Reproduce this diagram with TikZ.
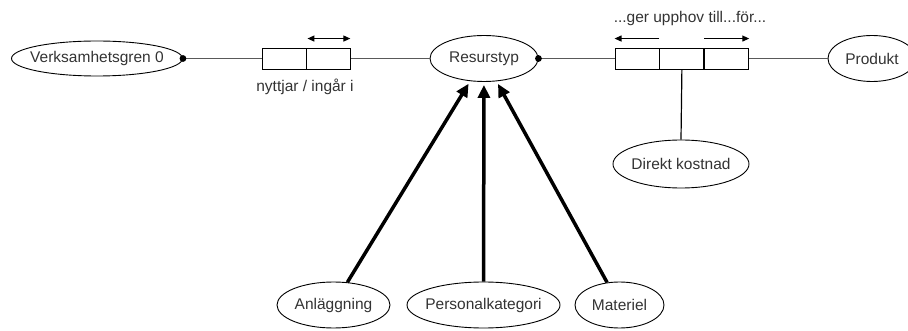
\documentclass[tikz,border=0pt]{standalone}
\usepackage{fontspec}
\setmainfont{Liberation Sans}
\usetikzlibrary{shapes.geometric,arrows.meta}
% zero-width text box, so that the ellipse size comes from the minimum sizes
\newcommand{\ztext}[1]{\makebox[0pt]{#1}}

\begin{document}
\begin{tikzpicture}[x=1pt,y=-1pt,
  entity/.style={ellipse,draw=black,line width=0.9pt,inner sep=0pt,
    font=\fontsize{15.5}{18}\selectfont,text=black!80},
  cell/.style={rectangle,draw=black,line width=0.9pt,minimum width=44pt,
    minimum height=21pt,inner sep=0pt},
  link/.style={draw=black!65,line width=1.3pt},
  thin arrow/.style={line width=1.2pt,-{Triangle[length=7pt,width=6pt]}},
  both arrow/.style={line width=1.2pt,
    {Triangle[length=7pt,width=6pt]}-{Triangle[length=7pt,width=6pt]}},
  heavy arrow/.style={line width=3.5pt,-{Triangle[length=13pt,width=12pt]},
    shorten >=3pt},
  caption/.style={font=\fontsize{15.5}{18}\selectfont,text=black!80}]

\useasboundingbox (0,0) rectangle (908,331);

% entities
\node[entity,minimum width=171pt,minimum height=35pt] (vg)   at (97,58.5)  {\ztext{Verksamhetsgren 0}};
\node[entity,minimum width=108pt,minimum height=46pt] (res)  at (484,58.5) {\ztext{Resurstyp}};
\node[entity,minimum width=88pt, minimum height=46pt] (prod) at (872,58.5) {\ztext{Produkt}};
\node[entity,minimum width=136pt,minimum height=48pt] (dk)   at (681,164)  {\ztext{Direkt kostnad}};
\node[entity,minimum width=113pt,minimum height=46pt] (anl)  at (333.5,305) {\ztext{Anläggning}};
\node[entity,minimum width=153pt,minimum height=46pt] (pk)   at (483.5,305) {\ztext{Personalkategori}};
\node[entity,minimum width=89pt, minimum height=46pt] (mat)  at (619.5,305) {\ztext{Materiel}};

% relationship boxes
\node[cell] (n1) at (284,58.5) {};
\node[cell,anchor=west] (n2) at (n1.east) {};
\node[cell] (g1) at (637,58.5) {};
\node[cell,anchor=west] (g2) at (g1.east) {};
\node[cell,anchor=west] (g3) at (g2.east) {};

% relationship labels
\node[caption] (lab1) at (305,87) {nyttjar / ingår i};
\node[caption] (lab2) at (690,18) {...ger upphov till...för...};

% connectors
\draw[link] (vg.east) -- (n1.west);
\draw[link] (n2.east) -- (res.west);
\draw[link] (res.east) -- (g1.west);
\draw[link] (g3.east) -- (prod.west);
\fill (vg.east) circle (3.4pt);
\fill (res.east) circle (3.4pt);
\draw[line width=1.2pt] (g2.south) -- (dk.north);

% reading directions
\draw[both arrow] ([xshift=1pt,yshift=9pt]n2.north west) -- ([xshift=-1pt,yshift=9pt]n2.north east);
\draw[thin arrow] ([yshift=9pt]g1.north east) -- ([yshift=9pt]g1.north west);
\draw[thin arrow] ([yshift=9pt]g3.north west) -- ([yshift=9pt]g3.north east);

% specialisations
\draw[heavy arrow] (anl) -- (res);
\draw[heavy arrow] (pk) -- (res);
\draw[heavy arrow] (mat) -- (res);
\end{tikzpicture}
\end{document}
